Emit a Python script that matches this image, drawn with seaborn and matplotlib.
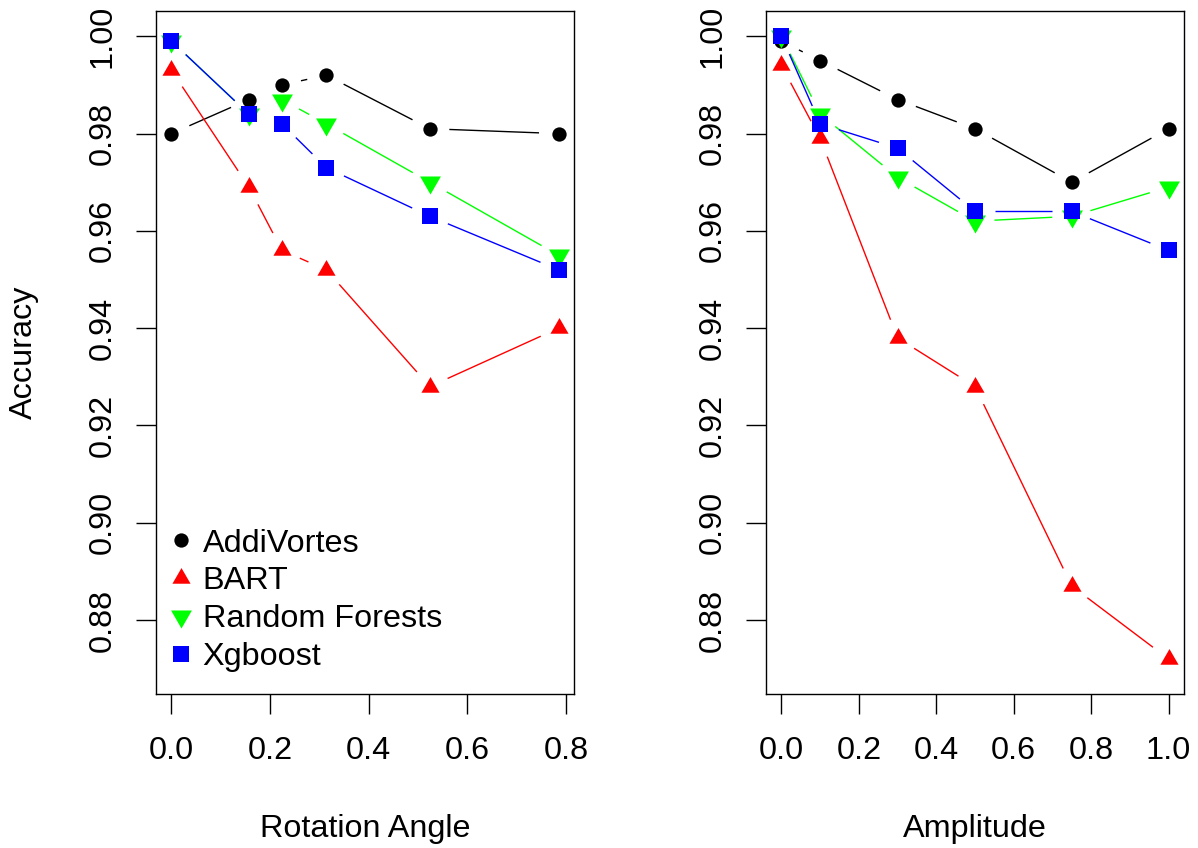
import numpy as np
import matplotlib
matplotlib.use("Agg")
import matplotlib.pyplot as plt
import seaborn as sns
from matplotlib.lines import Line2D

# ---- data -------------------------------------------------------------
methods = ["AddiVortes", "BART", "Random Forests", "Xgboost"]

rotation_angle = [0.0, 0.157, 0.224, 0.314, 0.524, 0.785]
rot_addivortes = [0.980, 0.987, 0.990, 0.992, 0.981, 0.980]
rot_bart = [0.993, 0.969, 0.956, 0.952, 0.928, 0.940]
rot_rf = [0.999, 0.984, 0.987, 0.982, 0.970, 0.955]
rot_xgb = [0.999, 0.984, 0.982, 0.973, 0.963, 0.952]

amplitude = [0.0, 0.1, 0.3, 0.5, 0.75, 1.0]
amp_addivortes = [0.999, 0.995, 0.987, 0.981, 0.970, 0.981]
amp_bart = [0.994, 0.979, 0.938, 0.928, 0.887, 0.872]
amp_rf = [1.000, 0.984, 0.971, 0.962, 0.963, 0.969]
amp_xgb = [1.000, 0.982, 0.977, 0.964, 0.964, 0.956]

y_ticks = [0.88, 0.90, 0.92, 0.94, 0.96, 0.98, 1.00]
rot_ticks = [0.0, 0.2, 0.4, 0.6, 0.8]
amp_ticks = [0.0, 0.2, 0.4, 0.6, 0.8, 1.0]

# ---- style -------------------------------------------------------------
sns.set_style("ticks")
plt.rcParams["font.family"] = ["Liberation Sans", "DejaVu Sans"]
plt.rcParams["axes.linewidth"] = 1.0
plt.rcParams["text.color"] = "black"
plt.rcParams["axes.labelcolor"] = "black"

colors = ["black", "#ff0000", "#00ff00", "#0000ff"]
tri_up = [(0, 1.5551), (1.3468, -0.7776), (-1.3468, -0.7776)]
tri_down = [(0, -1.5551), (1.3468, 0.7776), (-1.3468, 0.7776)]
markers = ["o", tri_up, tri_down, "s"]
marker_area = [106, 227, 300, 117]
FS = 23.3
GAP_PX = 19.5

fig = plt.figure(figsize=(11.98, 8.48), dpi=100)
W, H = 1198, 848


def add_axes(left, right, top, bottom):
    return fig.add_axes([left / W, 1 - bottom / H, (right - left) / W, (bottom - top) / H])


ax1 = add_axes(156, 574, 11, 694)
ax2 = add_axes(766, 1184, 11, 694)


def pad_range(lo, hi, frac=0.04):
    r = hi - lo
    return lo - frac * r, hi + frac * r


def gapped_line(ax, x, y, color, z):
    """Connect points with segments that stop short of each marker."""
    pts = ax.transData.transform(np.column_stack([x, y]))
    inv = ax.transData.inverted()
    for (x0, y0), (x1, y1) in zip(pts[:-1], pts[1:]):
        dist = np.hypot(x1 - x0, y1 - y0)
        f = GAP_PX / dist
        if f < 0.5:
            a = (x0 + f * (x1 - x0), y0 + f * (y1 - y0))
            b = (x1 - f * (x1 - x0), y1 - f * (y1 - y0))
            (ax0, ay0), (bx0, by0) = inv.transform([a, b])
            ax.plot([ax0, bx0], [ay0, by0], color=color, lw=1.0,
                    solid_capstyle="butt", zorder=z)


def panel(ax, x, series, xticks, xlabel, ylabel=None):
    ax.set_xlim(*pad_range(min(x), max(x)))
    ax.set_ylim(*pad_range(0.87, 1.0))
    for i, (vals, c, m, s) in enumerate(zip(series, colors, markers, marker_area)):
        gapped_line(ax, x, vals, c, 2 + 2 * i)
        sns.scatterplot(x=x, y=vals, marker=m, s=s, color=c, edgecolor=c,
                        linewidth=0, legend=False, ax=ax, zorder=3 + 2 * i)
    ax.set_xticks(xticks)
    ax.set_xticklabels([f"{t:.1f}" for t in xticks])
    ax.set_yticks(y_ticks)
    ax.set_yticklabels([f"{t:.2f}" for t in y_ticks])
    ax.tick_params(axis="both", direction="out", length=14.4, width=1.0,
                   color="black", labelsize=FS, labelcolor="black")
    ax.tick_params(axis="x", pad=16.0)
    ax.tick_params(axis="y", pad=13.0, labelrotation=90)
    for lab in ax.get_yticklabels():
        lab.set_va("center")
    for sp in ax.spines.values():
        sp.set_visible(True)
        sp.set_color("black")
        sp.set_linewidth(1.0)
    ax.set_xlabel(xlabel, fontsize=FS)
    ax.xaxis.set_label_coords(0.5, -0.176)
    if ylabel:
        ax.set_ylabel(ylabel, fontsize=FS)
        ax.yaxis.set_label_coords(-0.281, 0.5)
    else:
        ax.set_ylabel("")


panel(ax1, rotation_angle, [rot_addivortes, rot_bart, rot_rf, rot_xgb],
      rot_ticks, "Rotation Angle", "Accuracy")
panel(ax2, amplitude, [amp_addivortes, amp_bart, amp_rf, amp_xgb],
      amp_ticks, "Amplitude")

handles = [Line2D([], [], ls="none", marker=m, color=c, markeredgewidth=0,
                  markersize=np.sqrt(s))
           for m, c, s in zip(markers, colors, marker_area)]
ax1.legend(handles, methods, loc="upper left", bbox_to_anchor=(0.028, 0.2420),
           frameon=False, fontsize=FS, borderpad=0, borderaxespad=0,
           handlelength=0.8, handletextpad=0.28, labelspacing=0.24)

fig.savefig("out.png", dpi=100, facecolor="white")
